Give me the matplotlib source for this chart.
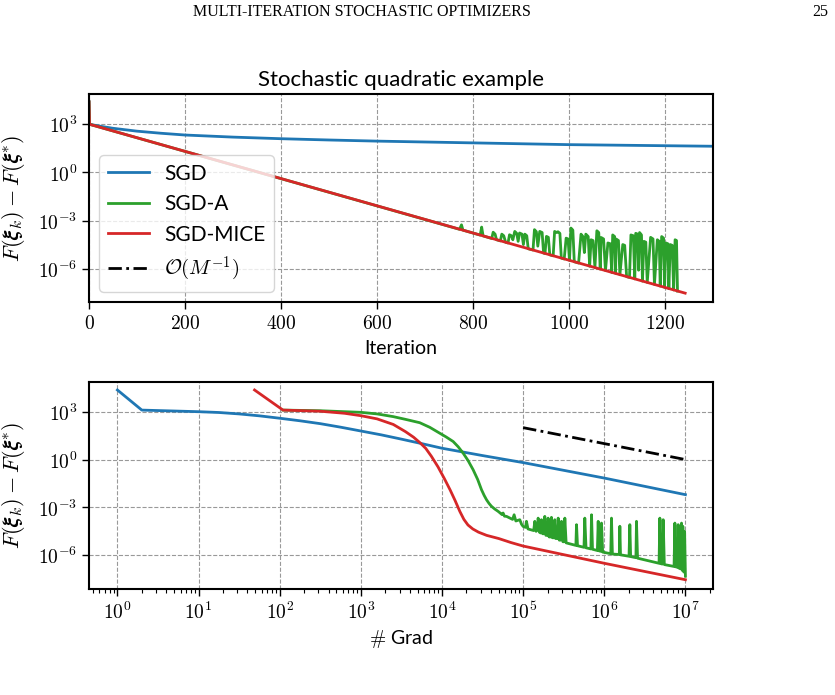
import numpy as np
import matplotlib
matplotlib.use("Agg")
import matplotlib.pyplot as plt
from matplotlib.ticker import FixedLocator, NullLocator, FuncFormatter, LogLocator

plt.rcParams["mathtext.fontset"] = "cm"
plt.rcParams["font.family"] = ["Lato", "DejaVu Sans"]

# ---------------- data (values stored as log10 exponents) ----------------
# top panel: objective gap vs iteration
sgd_iter = [0, 1, 25, 50, 100, 150, 200, 300, 400, 500, 600, 800, 1000, 1150, 1300]
sgd_exp = [4.40, 3.00, 2.87, 2.75, 2.57, 2.44, 2.33, 2.20, 2.10, 2.02, 1.95, 1.84, 1.73, 1.68, 1.63]

mice_iter = [0, 1, 1242]
mice_exp = [4.40, 3.00, -7.53]

sgda_iter = [0, 1, 772, 776, 779, 815, 818, 821, 839, 842, 846, 849,
             857, 860, 864, 868, 873, 876, 880, 883, 887, 891, 894, 897, 902, 905, 908, 912, 915,
             925, 928, 932, 935, 939, 944, 947, 950, 953, 957, 960,
             967, 970, 974, 977, 981, 984, 990, 994, 998, 1001, 1004, 1008, 1011,
             1020, 1025, 1029, 1032, 1035, 1040, 1043, 1046, 1050, 1054, 1058, 1062, 1065,
             1067, 1072, 1076, 1081, 1086, 1089, 1091, 1095, 1097, 1098, 1103, 1106,
             1112, 1116, 1120, 1126, 1129, 1134, 1137, 1139, 1143, 1145, 1147, 1151, 1153,
             1156, 1160, 1163, 1170, 1175, 1178, 1184, 1188, 1190, 1193, 1197, 1199,
             1202, 1206, 1208, 1211, 1215, 1218, 1221, 1224, 1226]
sgda_exp = [4.40, 3.00, -3.55, -3.27, -3.60, -3.91, -3.41, -3.96, -4.12, -3.73, -3.85, -4.20,
            -4.27, -3.85, -3.95, -4.36, -4.40, -3.89, -3.95, -4.20, -3.68, -3.80, -4.30, -3.78, -3.85, -4.50, -3.85, -3.95, -4.76,
            -4.84, -3.57, -3.70, -4.60, -3.68, -3.75, -5.03, -5.06, -3.99, -4.05, -5.14,
            -5.20, -3.68, -3.75, -3.70, -3.80, -5.34, -5.40, -4.10, -4.15, -5.49, -3.47, -3.60, -5.57,
            -5.65, -3.85, -4.00, -5.00, -3.85, -4.00, -5.85, -4.20, -4.25, -5.93, -3.64, -3.75, -6.03,
            -4.06, -4.15, -6.12, -4.40, -4.45, -6.24, -3.90, -4.00, -6.30, -4.15, -4.25, -6.38,
            -4.50, -4.55, -6.50, -6.55, -3.90, -3.95, -6.64, -3.80, -3.85, -6.10, -3.75, -3.90, -6.78,
            -4.30, -4.35, -6.86, -4.05, -4.15, -6.99, -4.20, -4.30, -7.09, -4.00, -4.10, -7.17,
            -4.40, -4.45, -7.25, -4.50, -4.55, -7.33, -4.20, -4.25, -7.40]

# bottom panel: objective gap vs number of gradient evaluations (log10 grads)
sgd_lg = [0.0, 0.301, 1.0, 1.25, 1.5, 1.75, 2.0, 2.25, 2.5, 2.75, 3.0, 3.25, 3.5, 3.75, 4.0,
          4.5, 5.0, 6.0, 7.0]
sgd_gexp = [4.36, 3.10, 3.00, 2.95, 2.86, 2.74, 2.59, 2.43, 2.25, 2.03, 1.79, 1.55, 1.28, 1.00, 0.71,
            0.25, -0.19, -1.16, -2.20]

mice_lg = [1.69, 2.041, 2.5, 2.8, 3.0, 3.2, 3.4, 3.55, 3.65, 3.73, 3.80, 3.87, 3.95, 4.03,
           4.10, 4.16, 4.22, 4.27, 4.32, 4.38, 4.45, 4.55, 4.70, 4.85, 5.0, 6.0, 7.0]
mice_gexp = [4.36, 3.10, 3.03, 2.90, 2.75, 2.55, 2.20, 1.75, 1.40, 1.05, 0.70, 0.20, -0.45, -1.20,
             -1.90, -2.55, -3.25, -3.75, -4.10, -4.35, -4.55, -4.75, -4.95, -5.20, -5.42, -6.50, -7.53]

sgda_lg = [2.041, 2.5, 3.0, 3.2, 3.40, 3.55, 3.726, 3.85, 3.973, 4.05, 4.138, 4.20, 4.261, 4.32,
           4.384, 4.44, 4.487, 4.52, 4.549, 4.58, 4.61, 4.65, 4.693,
           4.74, 4.753, 4.77, 4.795, 4.87, 4.889, 4.91, 4.959, 4.98, 5.0, 5.03, 5.041, 5.06,
           5.13, 5.144, 5.16, 5.175, 5.185, 5.2, 5.215, 5.226, 5.24, 5.257, 5.267, 5.28,
           5.298, 5.308, 5.32, 5.34, 5.349, 5.36, 5.38, 5.39, 5.40, 5.42, 5.432, 5.445,
           5.463, 5.473, 5.49, 5.505, 5.514, 5.53, 5.65, 5.658, 5.67, 5.75, 5.76, 5.775,
           5.835, 5.843, 5.855, 5.915, 5.925, 5.935, 5.955, 5.966, 5.98, 6.08, 6.089, 6.10,
           6.185, 6.192, 6.20, 6.305, 6.315, 6.325, 6.39, 6.397, 6.41, 6.675, 6.685, 6.695,
           6.715, 6.726, 6.74, 6.86, 6.87, 6.88, 6.90, 6.911, 6.92, 6.94, 6.952, 6.962,
           6.968, 6.98, 6.99, 7.0]
sgda_gexp = [3.10, 3.06, 2.96, 2.86, 2.69, 2.52, 2.31, 2.02, 1.65, 1.42, 1.13, 0.80, 0.40, -0.05,
             -0.64, -1.25, -1.89, -2.25, -2.52, -2.75, -2.93, -3.10, -3.25,
             -3.45, -3.35, -3.55, -3.56, -3.75, -3.46, -3.85, -3.77, -4.05, -4.19, -4.25, -3.87, -4.35,
             -4.45, -3.87, -4.50, -4.40, -3.67, -4.55, -4.60, -3.77, -4.65, -4.65, -3.56, -4.75,
             -4.75, -3.67, -4.85, -4.85, -3.62, -4.90, -4.90, -3.77, -4.95, -4.95, -3.67, -5.05,
             -5.05, -3.87, -5.15, -5.15, -3.67, -5.22, -5.38, -4.08, -5.40, -5.50, -3.67, -5.53,
             -5.60, -3.46, -5.62, -5.70, -3.87, -5.72, -5.75, -3.98, -5.80, -5.90, -3.67, -5.92,
             -5.95, -4.18, -5.97, -6.06, -4.08, -6.08, -6.15, -3.87, -6.18, -6.50, -3.67, -6.52,
             -6.55, -3.77, -6.58, -6.70, -3.98, -6.72, -6.75, -4.08, -6.80, -6.85, -3.98, -6.95,
             -4.18, -7.05, -4.50, -7.31]

rate_lg = [5.0, 7.0]
rate_gexp = [2.0, 0.0]

labels = ["SGD", "SGD-A", "SGD-MICE", r"$\mathcal{O}(M^{-1})$"]
colors = ["#1f77b4", "#2ca02c", "#d62728", "black"]
top_xticks = [0, 200, 400, 600, 800, 1000, 1200]
y_ticks_exp = [3, 0, -3, -6]
bot_xticks_exp = [0, 1, 2, 3, 4, 5, 6, 7]

p10 = lambda a: np.power(10.0, np.asarray(a, dtype=float))

# ---------------- figure ----------------
fig = plt.figure(figsize=(8.35, 6.95), dpi=100)
ax1 = fig.add_axes([0.1066, 0.5655, 0.7473, 0.2993])
ax2 = fig.add_axes([0.1066, 0.1521, 0.7473, 0.2987])

lw = 2.0
l1, = ax1.plot(sgd_iter, p10(sgd_exp), color=colors[0], lw=lw, label=labels[0])
l2, = ax1.plot(sgda_iter, p10(sgda_exp), color=colors[1], lw=lw, label=labels[1])
l3, = ax1.plot(mice_iter, p10(mice_exp), color=colors[2], lw=lw, label=labels[2])

ax2.plot(p10(sgd_lg), p10(sgd_gexp), color=colors[0], lw=lw)
ax2.plot(p10(sgda_lg), p10(sgda_gexp), color=colors[1], lw=lw)
ax2.plot(p10(mice_lg), p10(mice_gexp), color=colors[2], lw=lw)
l4, = ax2.plot(p10(rate_lg), p10(rate_gexp), color=colors[3], lw=lw,
               linestyle=(0, (4.8, 1.6, 1.0, 1.6)), label=labels[3])

yfmt = FuncFormatter(lambda v, p: r"$10^{%d}$" % int(round(np.log10(v))))
for ax in (ax1, ax2):
    ax.set_yscale("log")
    ax.yaxis.set_major_locator(FixedLocator(p10(y_ticks_exp)))
    ax.yaxis.set_minor_locator(NullLocator())
    ax.yaxis.set_major_formatter(yfmt)
    ax.grid(True, which="major", color="0.6", linestyle="--", linewidth=0.8)
    for s in ax.spines.values():
        s.set_linewidth(1.5)
    ax.tick_params(axis="both", which="major", labelsize=14, length=5, width=1.0)
    ax.set_ylabel(r"$F(\boldsymbol{\xi}_k) - F(\boldsymbol{\xi}^{*})$", fontsize=16, labelpad=8)

ax1.set_xlim(0, 1300)
ax1.set_ylim(10 ** -8.08, 10 ** 4.89)
ax1.xaxis.set_major_locator(FixedLocator(top_xticks))
ax1.xaxis.set_major_formatter(FuncFormatter(lambda v, p: r"$%d$" % int(v)))
ax1.set_xlabel("Iteration", fontsize=14, labelpad=6)
ax1.set_title("Stochastic quadratic example", fontsize=16, pad=6)

ax2.set_xscale("log")
ax2.set_xlim(10 ** -0.35, 10 ** 7.34)
ax2.set_ylim(10 ** -8.13, 10 ** 4.88)
ax2.xaxis.set_major_locator(FixedLocator(p10(bot_xticks_exp)))
ax2.xaxis.set_minor_locator(LogLocator(base=10, subs=np.arange(2, 10), numticks=20))
ax2.xaxis.set_major_formatter(FuncFormatter(lambda v, p: r"$10^{%d}$" % int(round(np.log10(v)))))
ax2.tick_params(axis="x", which="minor", length=3, width=0.8)
ax2.set_xlabel(r"$\#$ Grad", fontsize=14, labelpad=4)

ax1.legend(handles=[l1, l2, l3, l4], loc="lower left", fontsize=15,
           framealpha=0.8, edgecolor="0.8", fancybox=True, borderaxespad=0.5,
           handletextpad=0.7)

fig.text(0.434, 0.983, "MULTI-ITERATION STOCHASTIC OPTIMIZERS", ha="center", va="center",
         fontsize=11.5, family=["Liberation Serif", "DejaVu Serif"])
fig.text(0.982, 0.983, "25", ha="center", va="center",
         fontsize=11.5, family=["Liberation Serif", "DejaVu Serif"])

fig.savefig("out.png", dpi=100)
